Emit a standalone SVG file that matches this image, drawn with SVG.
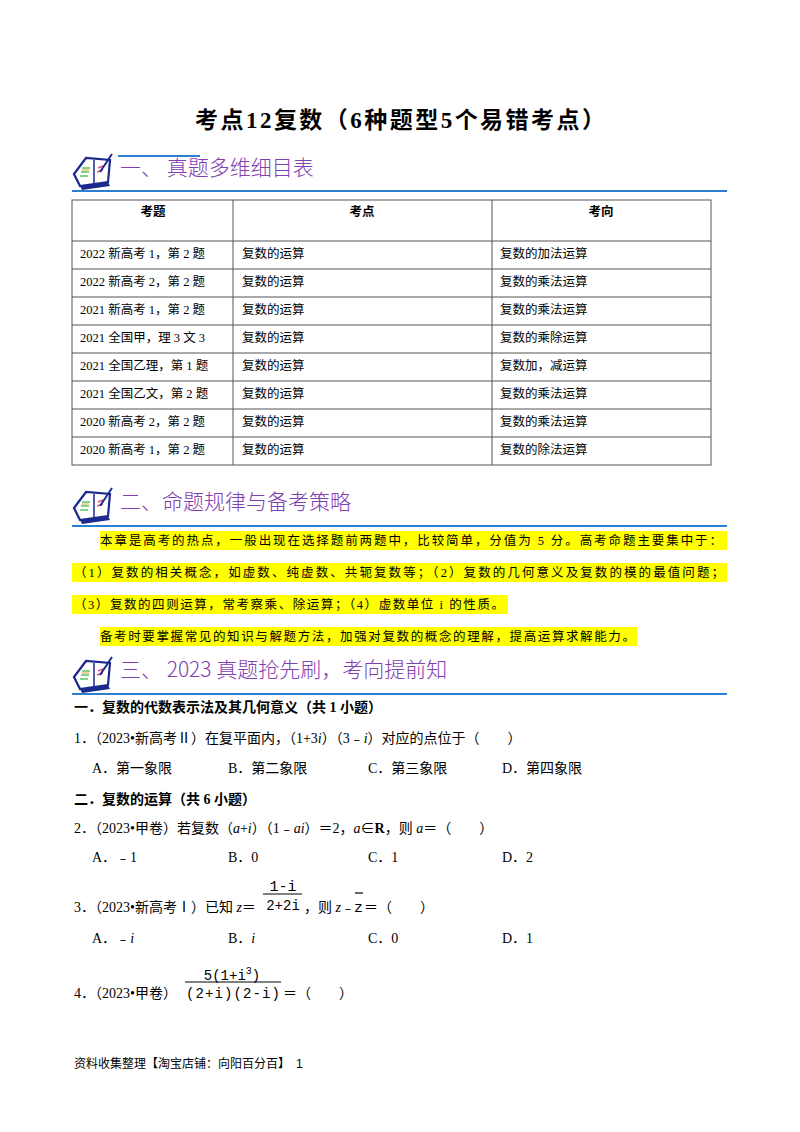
<svg xmlns="http://www.w3.org/2000/svg" width="800" height="1132" viewBox="0 0 800 1132">
<style>
text{font-family:"Liberation Serif","Noto Sans CJK SC",serif;fill:#000}
.t{font-size:14px}
.b{font-weight:bold}
.h{font-size:21px;fill:#8040b0;font-family:"Noto Sans CJK SC",sans-serif;font-weight:300}
.tb{font-size:12.5px;font-family:"Liberation Sans","Noto Sans CJK SC",sans-serif}
.bl{stroke:#2a7fd0;stroke-width:2}
.hl{fill:#ffff00}
.g{stroke:#555;stroke-width:1;fill:none}
.m{font-family:"Liberation Mono",monospace}
</style>
<defs>
<g id="icon">
<path d="M2 22 L14 6 L38 8 L36 30 L8 34 Z" fill="#fff" stroke="#1b2a8c" stroke-width="2.2"/>
<path d="M2 22 L8 34 L36 30 L38 34 L10 38 Z" fill="#1b2a8c"/>
<line x1="22" y1="8" x2="22" y2="32" stroke="#1b2a8c" stroke-width="1.5"/>
<path d="M10 16h8M9 20h8M8 24h8" stroke="#5bc46b" stroke-width="1.5"/>
<path d="M10 18h7" stroke="#e6a33a" stroke-width="1"/>
<path d="M26 16l5 -2M25 20l6 -2" stroke="#e0508a" stroke-width="1.5"/>
<line x1="28" y1="20" x2="40" y2="2" stroke="#1b2a8c" stroke-width="2"/>
</g>
</defs>
<rect width="800" height="1132" fill="#fff"/>
<text x="400" y="128" text-anchor="middle" class="b" style="font-size:23px" textLength="410">考点12复数（6种题型5个易错考点）</text>

<g id="sec1">
<use href="#icon" x="72" y="152"/>
<line x1="118" y1="156" x2="200" y2="156" class="bl"/>
<text x="120" y="175" class="h">一、  真题多维细目表</text>
<line x1="72" y1="191" x2="727" y2="191" class="bl"/>
</g>

<g id="table">
<rect x="72" y="200" width="639" height="265" class="g"/>
<path d="M233 200V465M492 200V465M72 241H711M72 269H711M72 297H711M72 325H711M72 353H711M72 381H711M72 409H711M72 437H711" class="g"/>
<g class="tb">
<text x="153" y="216" text-anchor="middle" class="b">考题</text>
<text x="362" y="216" text-anchor="middle" class="b">考点</text>
<text x="601" y="216" text-anchor="middle" class="b">考向</text>
<text x="80" y="258">2022 新高考 1，第 2 题</text><text x="242" y="258">复数的运算</text><text x="500" y="258">复数的加法运算</text>
<text x="80" y="286">2022 新高考 2，第 2 题</text><text x="242" y="286">复数的运算</text><text x="500" y="286">复数的乘法运算</text>
<text x="80" y="314">2021 新高考 1，第 2 题</text><text x="242" y="314">复数的运算</text><text x="500" y="314">复数的乘法运算</text>
<text x="80" y="342">2021 全国甲，理 3 文 3</text><text x="242" y="342">复数的运算</text><text x="500" y="342">复数的乘除运算</text>
<text x="80" y="370">2021 全国乙理，第 1 题</text><text x="242" y="370">复数的运算</text><text x="500" y="370">复数加，减运算</text>
<text x="80" y="398">2021 全国乙文，第 2 题</text><text x="242" y="398">复数的运算</text><text x="500" y="398">复数的乘法运算</text>
<text x="80" y="426">2020 新高考 2，第 2 题</text><text x="242" y="426">复数的运算</text><text x="500" y="426">复数的乘法运算</text>
<text x="80" y="454">2020 新高考 1，第 2 题</text><text x="242" y="454">复数的运算</text><text x="500" y="454">复数的除法运算</text>
</g>
</g>

<g id="sec2">
<use href="#icon" x="72" y="486"/>
<text x="120" y="509" class="h">二、命题规律与备考策略</text>
<line x1="72" y1="526" x2="727" y2="526" class="bl"/>
<rect x="100" y="531" width="627" height="19" class="hl"/>
<rect x="72" y="563" width="655" height="19" class="hl"/>
<rect x="72" y="595" width="436" height="19" class="hl"/>
<rect x="100" y="627" width="537" height="19" class="hl"/>
<g class="tb">
<text x="100" y="545" textLength="622">本章是高考的热点，一般出现在选择题前两题中，比较简单，分值为 5 分。高考命题主要集中于：</text>
<text x="74" y="577" textLength="650">（1）复数的相关概念，如虚数、纯虚数、共轭复数等；（2）复数的几何意义及复数的模的最值问题；</text>
<text x="74" y="609" textLength="430">（3）复数的四则运算，常考察乘、除运算；（4）虚数单位 i 的性质。</text>
<text x="100" y="641" textLength="535">备考时要掌握常见的知识与解题方法，加强对复数的概念的理解，提高运算求解能力。</text>
</g>
</g>

<g id="sec3">
<use href="#icon" x="72" y="655"/>
<text x="120" y="677" class="h">三、  2023 真题抢先刷，考向提前知</text>
<line x1="72" y1="694" x2="727" y2="694" class="bl"/>
</g>

<g class="t">
<text x="74" y="712" class="b">一．复数的代数表示法及其几何意义（共 1 小题）</text>
<text x="74" y="743">1．（2023•新高考Ⅱ）在复平面内，（1+3<tspan font-style="italic">i</tspan>）（3﹣<tspan font-style="italic">i</tspan>）对应的点位于（　　）</text>
<text x="92" y="773">A．第一象限</text><text x="228" y="773">B．第二象限</text><text x="368" y="773">C．第三象限</text><text x="502" y="773">D．第四象限</text>
<text x="74" y="804" class="b">二．复数的运算（共 6 小题）</text>
<text x="74" y="833">2．（2023•甲卷）若复数（<tspan font-style="italic">a</tspan>+<tspan font-style="italic">i</tspan>）（1﹣<tspan font-style="italic">ai</tspan>）＝2，<tspan font-style="italic">a</tspan>∈<tspan font-weight="bold">R</tspan>，则 <tspan font-style="italic">a</tspan>＝（　　）</text>
<text x="92" y="862">A．﹣1</text><text x="228" y="862">B．0</text><text x="368" y="862">C．1</text><text x="502" y="862">D．2</text>
<text x="74" y="912">3．（2023•新高考Ⅰ）已知 <tspan font-style="italic">z</tspan>＝</text>
<text x="283" y="891" text-anchor="middle" class="m" style="font-size:15px">1-i</text>
<line x1="263" y1="894" x2="302" y2="894" stroke="#000" stroke-width="1"/>
<text x="283" y="910" text-anchor="middle" class="m" style="font-size:14px">2+2i</text>
<text x="304" y="912">，则 <tspan font-style="italic">z</tspan>﹣</text>
<line x1="355" y1="893" x2="363" y2="893" stroke="#000" stroke-width="1.2"/>
<text x="354" y="912" class="m" style="font-size:15px">z</text>
<text x="364" y="912">＝（　　）</text>
<text x="92" y="943">A．﹣<tspan font-style="italic">i</tspan></text><text x="228" y="943">B．<tspan font-style="italic">i</tspan></text><text x="368" y="943">C．0</text><text x="502" y="943">D．1</text>
<text x="74" y="998">4．（2023•甲卷）</text>
<text x="232" y="980" text-anchor="middle" class="m" style="font-size:14px">5(1+i<tspan dy="-6" font-size="10">3</tspan><tspan dy="6">)</tspan></text>
<line x1="185" y1="982" x2="281" y2="982" stroke="#000" stroke-width="1"/>
<text x="233" y="998" text-anchor="middle" class="m" style="font-size:14px" textLength="94">(2+i)(2-i)</text>
<text x="283" y="998">＝（　　）</text>
</g>
<text x="74" y="1068" class="tb" style="font-size:12px">资料收集整理【淘宝店铺：向阳百分百】　1</text>
</svg>
